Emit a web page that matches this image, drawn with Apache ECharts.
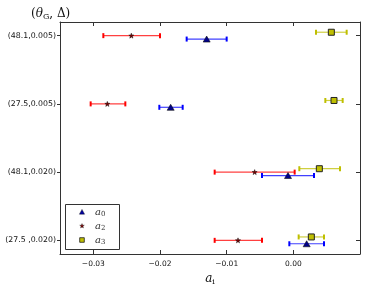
<!DOCTYPE html>
<html><head><meta charset="utf-8">
<script src="https://cdn.jsdelivr.net/npm/echarts@6/dist/echarts.min.js"></script>
<style>html,body{margin:0;padding:0;background:#fff}#c{width:374px;height:285px}</style>
</head><body><div id="c"></div>
<script>
var categories = ['(27.5 ,0.020)', '(48.1,0.020)', '(27.5,0.005)', '(48.1,0.005)'];
var xTicks = [-0.03, -0.02, -0.01, 0.00];
var legendNames = ['0', '2', '3'];
// values per category (bottom to top)
var a0 = [0.0020, -0.0008, -0.0184, -0.0130];
var a0Low = [-0.0006, -0.0047, -0.0201, -0.0160];
var a0High = [0.0046, 0.0031, -0.0166, -0.0100];
var a2 = [-0.0083, -0.0058, -0.0279, -0.0243];
var a2Low = [-0.0118, -0.0118, -0.0304, -0.0285];
var a2High = [-0.0047, 0.0002, -0.0252, -0.0200];
var a3 = [0.0027, 0.0039, 0.0061, 0.0057];
var a3Low = [0.0008, 0.0009, 0.0048, 0.0034];
var a3High = [0.0046, 0.0070, 0.0074, 0.0080];

var chart = echarts.init(document.getElementById('c'));
var FONT = 'DejaVu Sans';
var MATH = 'DejaVu Serif';
var starPath = 'path://M0,-10 L2.35,-3.24 9.51,-3.09 3.8,1.24 5.88,8.09 0,4 -5.88,8.09 -3.8,1.24 -9.51,-3.09 -2.35,-3.24Z';

function errSeries(vals, lo, hi, off, color) {
  var data = vals.map(function (v, i) { return [i + off, lo[i], hi[i]]; });
  return {
    type: 'custom', silent: true, z: 2,
    data: data,
    encode: { x: [1, 2], y: 0 },
    renderItem: function (params, api) {
      var y = api.value(0);
      var p1 = api.coord([api.value(1), y]);
      var p2 = api.coord([api.value(2), y]);
      var h = 2.5;
      return {
        type: 'group',
        children: [
          { type: 'line', shape: { x1: p1[0], y1: p1[1], x2: p2[0], y2: p2[1] }, style: { stroke: color, lineWidth: 1.2, opacity: 0.75 } },
          { type: 'line', shape: { x1: p1[0], y1: p1[1] - h, x2: p1[0], y2: p1[1] + h }, style: { stroke: color, lineWidth: 2 } },
          { type: 'line', shape: { x1: p2[0], y1: p2[1] - h, x2: p2[0], y2: p2[1] + h }, style: { stroke: color, lineWidth: 2 } }
        ]
      };
    }
  };
}
function pts(vals, off) { return vals.map(function (v, i) { return [v, i + off]; }); }

var catVals = [0, 1, 2, 3];
function fmtX(v) { return v.toFixed(2).replace('-', '\u2212'); }
var tickStyle = { color: '#333', width: 1 };
var lineStyle = { color: '#333', width: 1 };

// legend (drawn as graphic)
function starPoints(cx, cy, R, r) {
  var p = [];
  for (var k = 0; k < 10; k++) {
    var ang = -Math.PI / 2 + k * Math.PI / 5;
    var rad = k % 2 ? r : R;
    p.push([cx + rad * Math.cos(ang), cy + rad * Math.sin(ang)]);
  }
  return p;
}
var LX = 65, LY = 204, LW = 54, LH = 45;
var rowY = [212, 226, 240];
var mx = 82, tx = 95;
var legendEls = [
  { type: 'rect', shape: { x: LX + 0.5, y: LY + 0.5, width: LW, height: LH }, style: { fill: '#fff', stroke: '#333', lineWidth: 1 }, z: 10 },
  { type: 'polygon', shape: { points: [[mx - 2.6, rowY[0] + 2.2], [mx + 2.6, rowY[0] + 2.2], [mx, rowY[0] - 2.6]] }, style: { fill: '#0000a0', stroke: '#111', lineWidth: 0.4 }, z: 11 },
  { type: 'polygon', shape: { points: starPoints(mx, rowY[1], 2.4, 1.0) }, style: { fill: '#7a0000', stroke: '#222', lineWidth: 0.4 }, z: 11 },
  { type: 'rect', shape: { x: mx - 2.3, y: rowY[2] - 2.3, width: 4.6, height: 4.6 }, style: { fill: '#bfbf00', stroke: '#222', lineWidth: 0.8 }, z: 11 }
];
legendNames.forEach(function (n, i) {
  legendEls.push({
    type: 'text', z: 11, x: tx, y: rowY[i],
    style: {
      text: '{i|a}{s|' + n + '}', verticalAlign: 'middle',
      rich: {
        i: { fontFamily: MATH, fontStyle: 'italic', fontSize: 10, fill: '#333' },
        s: { fontFamily: MATH, fontSize: 7, fill: '#333', padding: [4, 0, 0, 0] }
      }
    }
  });
});

chart.setOption({
  animation: false,
  grid: { left: 60, right: 14, top: 22, bottom: 31, outerBoundsMode: 'none' },
  title: {
    left: 26, top: 2,
    text: '{t|(}{ti|θ}{s|G}{t|, Δ)}',
    textStyle: { fontWeight: 'normal', rich: {
      t: { fontFamily: MATH, fontSize: 12, fontWeight: 'normal', color: '#111' },
      ti: { fontFamily: MATH, fontSize: 12, fontWeight: 'normal', fontStyle: 'italic', color: '#111' },
      s: { fontFamily: MATH, fontSize: 8, fontWeight: 'normal', color: '#111', padding: [6, 0, 0, 0] }
    } }
  },
  graphic: legendEls,
  xAxis: [{
    type: 'value', min: -0.035, max: 0.01, position: 'bottom',
    splitLine: { show: false },
    axisLine: { show: true, onZero: false, lineStyle: lineStyle },
    axisTick: { show: false },
    axisLabel: { customValues: xTicks, formatter: fmtX, fontFamily: FONT, fontSize: 7.5, color: '#111', margin: 6 },
    name: '{i|a}{s|i}', nameLocation: 'middle', nameGap: 16,
    nameTextStyle: { rich: {
      i: { fontFamily: MATH, fontStyle: 'italic', fontSize: 12, color: '#111' },
      s: { fontFamily: MATH, fontSize: 8, color: '#111', padding: [6, 0, 0, 0] }
    } }
  }, {
    type: 'value', min: -0.035, max: 0.01, position: 'top',
    splitLine: { show: false },
    axisLine: { show: true, onZero: false, lineStyle: lineStyle },
    axisTick: { show: true, inside: true, length: 4, customValues: xTicks, lineStyle: tickStyle },
    axisLabel: { show: false }
  }, {
    type: 'value', min: -0.035, max: 0.01, position: 'bottom',
    splitLine: { show: false },
    axisLine: { show: false, onZero: false },
    axisTick: { show: true, inside: true, length: 4, customValues: xTicks, lineStyle: tickStyle },
    axisLabel: { show: false }
  }],
  yAxis: [{
    type: 'value', min: -0.2, max: 3.2, position: 'left',
    splitLine: { show: false },
    axisLine: { show: true, onZero: false, lineStyle: lineStyle },
    axisTick: { show: true, inside: false, length: 3, customValues: catVals, lineStyle: tickStyle },
    axisLabel: { customValues: catVals, formatter: function (v) { return categories[Math.round(v)]; }, fontFamily: FONT, fontSize: 7.8, color: '#111', margin: 4 }
  }, {
    type: 'value', min: -0.2, max: 3.2, position: 'right',
    splitLine: { show: false },
    axisLine: { show: true, onZero: false, lineStyle: lineStyle },
    axisTick: { show: true, inside: true, length: 4, customValues: catVals, lineStyle: tickStyle },
    axisLabel: { show: false }
  }],
  series: [
    errSeries(a0, a0Low, a0High, -0.05, '#0000ff'),
    errSeries(a2, a2Low, a2High, 0, '#ff0000'),
    errSeries(a3, a3Low, a3High, 0.05, '#bfbf00'),
    { name: 'a0', type: 'scatter', z: 5, data: pts(a0, -0.05), symbol: 'triangle', symbolSize: [7, 6],
      itemStyle: { color: '#00008b', borderColor: '#111', borderWidth: 0.6, opacity: 1 } },
    { name: 'a2', type: 'scatter', z: 5, data: pts(a2, 0), symbol: starPath, symbolSize: 5,
      itemStyle: { color: '#7a0000', borderColor: '#111', borderWidth: 0.5, opacity: 1 } },
    { name: 'a3', type: 'scatter', z: 5, data: pts(a3, 0.05), symbol: 'rect', symbolSize: 6,
      itemStyle: { color: '#bfbf00', borderColor: '#222', borderWidth: 1, opacity: 1 } }
  ]
});
</script></body></html>
